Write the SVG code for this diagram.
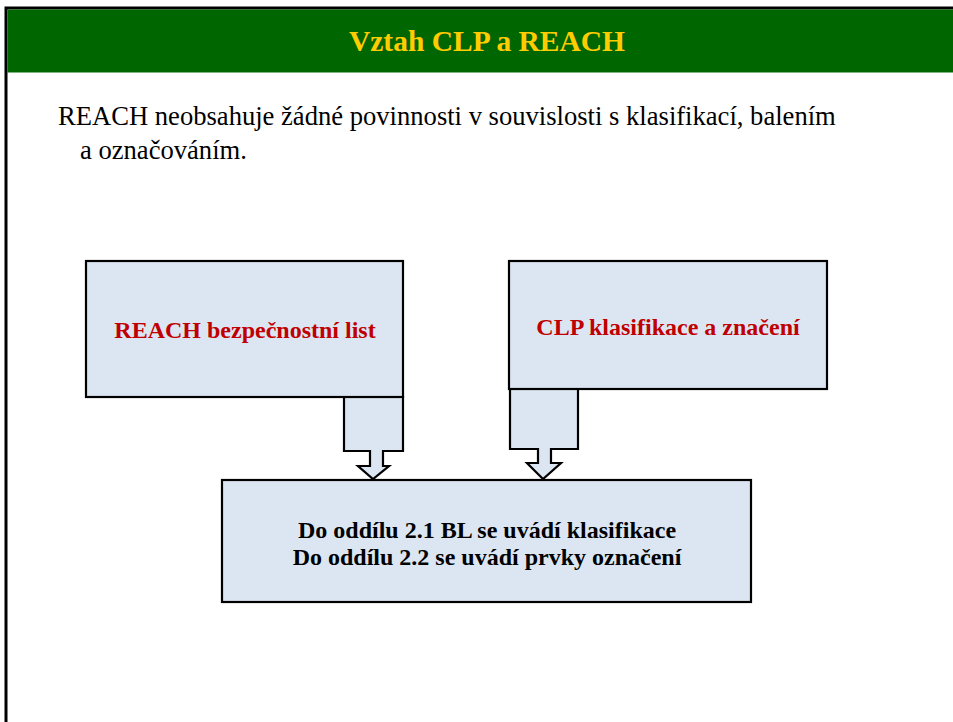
<svg xmlns="http://www.w3.org/2000/svg" width="953" height="722" viewBox="0 0 953 722">
<style>
.box{fill:#dce6f2;stroke:#000;stroke-width:2.2}
.t{font-family:"Liberation Serif","Times New Roman",serif}
.red{font-weight:bold;fill:#c00000;font-size:24px;text-anchor:middle}
.blk{font-weight:bold;fill:#000;font-size:24px;text-anchor:middle}
</style>
<rect x="0" y="0" width="953" height="722" fill="#fff"/>
<g id="frame">
<path d="M6,722 V8 H953" fill="none" stroke="#000" stroke-width="3"/>
<rect x="7.5" y="9.5" width="946" height="63" fill="#006600"/>
<text class="t" x="487" y="51" text-anchor="middle" font-size="29.5" font-weight="bold" fill="#ffcc00">Vztah CLP a REACH</text>
</g>
<g id="intro">
<text class="t" x="58" y="125" font-size="26.6" fill="#000">REACH neobsahuje žádné povinnosti v souvislosti s klasifikací, balením</text>
<text class="t" x="80" y="159" font-size="26.6" fill="#000">a označováním.</text>
</g>
<g id="connectors">
<path class="box" d="M344,397 H403 V451 H383 V466 H389 L373,479 L358,466 H370 V451 H344 Z"/>
<path class="box" d="M510,389 H578 V449 H551 V463 H561 L543,479 L527,463 H538 V449 H510 Z"/>
</g>
<g id="reach">
<rect class="box" x="86" y="261" width="317" height="136"/>
<text class="t red" x="245" y="338">REACH bezpečnostní list</text>
</g>
<g id="clp">
<rect class="box" x="509" y="261" width="318" height="128"/>
<text class="t red" x="668" y="335">CLP klasifikace a značení</text>
</g>
<g id="result">
<rect class="box" x="222" y="480" width="529" height="122"/>
<text class="t blk" x="487" y="538">Do oddílu 2.1 BL se uvádí klasifikace</text>
<text class="t blk" x="487" y="565">Do oddílu 2.2 se uvádí prvky označení</text>
</g>
</svg>
